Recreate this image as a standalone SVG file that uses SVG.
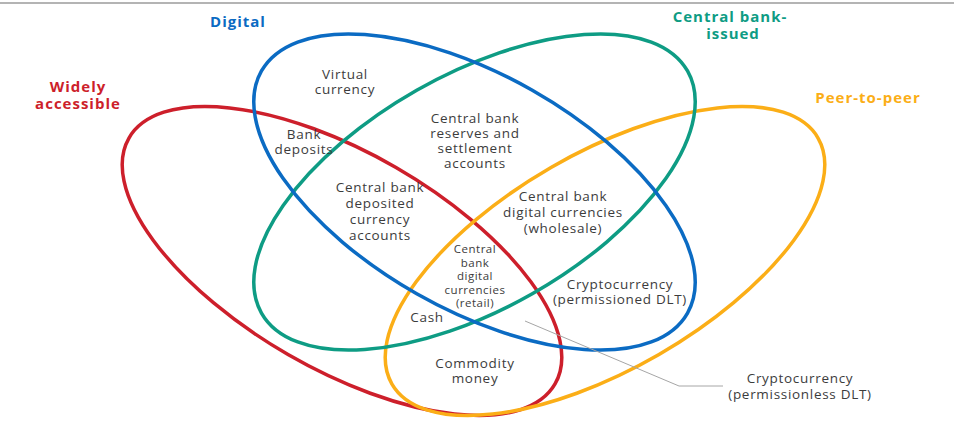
<svg xmlns="http://www.w3.org/2000/svg" width="959" height="425" viewBox="0 0 959 425">
<style>
.ring{fill:none;stroke-width:3.5}
.lbl{font-family:"Open Sans","Noto Sans",sans-serif;font-size:13.5px;fill:#3c3c3c;text-anchor:middle;letter-spacing:0.7px}
.sm{font-size:11.5px;letter-spacing:0.5px}
.ttl{font-family:"Open Sans","Noto Sans",sans-serif;font-size:15px;font-weight:bold;text-anchor:middle;letter-spacing:1px}
</style>
<rect width="959" height="425" fill="#ffffff"/>
<line x1="0" y1="3" x2="954" y2="3" stroke="#b4b4b4" stroke-width="2"/>
<g id="widely-accessible">
<ellipse class="ring" cx="342" cy="261" rx="246" ry="108" transform="rotate(30 342 261)" stroke="#CD1F2B"/>
<text class="ttl" fill="#CD1F2B"><tspan x="78" y="92">Widely</tspan><tspan x="78" y="109">accessible</tspan></text>
</g>
<g id="peer-to-peer">
<ellipse class="ring" cx="605" cy="261" rx="246" ry="108" transform="rotate(-30 605 261)" stroke="#FBAE17"/>
<text class="ttl" fill="#FBAE17" x="868" y="103">Peer-to-peer</text>
</g>
<g id="central-bank-issued">
<ellipse class="ring" cx="474.5" cy="192" rx="245" ry="117" transform="rotate(-29.6 474.5 192)" stroke="#0E9C84"/>
<text class="ttl" fill="#0E9C84"><tspan x="730" y="22">Central bank-</tspan><tspan x="733" y="39">issued</tspan></text>
</g>
<g id="digital">
<ellipse class="ring" cx="474.5" cy="192" rx="245" ry="117" transform="rotate(29.6 474.5 192)" stroke="#0B6BC3"/>
<text class="ttl" fill="#0B6BC3" x="238" y="27">Digital</text>
</g>
<g id="connectors">
<polyline points="525,321 679,386 723,386" fill="none" stroke="#a6a6a6" stroke-width="1"/>
</g>
<g id="virtual-currency"><text class="lbl"><tspan x="345" y="79">Virtual</tspan><tspan x="345" y="94">currency</tspan></text></g>
<g id="bank-deposits"><text class="lbl"><tspan x="304" y="139">Bank</tspan><tspan x="304" y="154">deposits</tspan></text></g>
<g id="cb-reserves"><text class="lbl"><tspan x="475" y="123">Central bank</tspan><tspan x="475" y="138">reserves and</tspan><tspan x="475" y="153">settlement</tspan><tspan x="475" y="168">accounts</tspan></text></g>
<g id="cb-deposited"><text class="lbl"><tspan x="380" y="192">Central bank</tspan><tspan x="380" y="208">deposited</tspan><tspan x="380" y="224">currency</tspan><tspan x="380" y="240">accounts</tspan></text></g>
<g id="cbdc-wholesale"><text class="lbl"><tspan x="563" y="201">Central bank</tspan><tspan x="563" y="217">digital currencies</tspan><tspan x="563" y="233">(wholesale)</tspan></text></g>
<g id="cbdc-retail"><text class="lbl sm"><tspan x="475" y="253">Central</tspan><tspan x="475" y="266.5">bank</tspan><tspan x="475" y="280">digital</tspan><tspan x="475" y="293.5">currencies</tspan><tspan x="475" y="307">(retail)</tspan></text></g>
<g id="cash"><text class="lbl" x="427" y="322">Cash</text></g>
<g id="crypto-permissioned"><text class="lbl"><tspan x="620" y="289">Cryptocurrency</tspan><tspan x="620" y="304">(permissioned DLT)</tspan></text></g>
<g id="commodity-money"><text class="lbl"><tspan x="475" y="368">Commodity</tspan><tspan x="475" y="383">money</tspan></text></g>
<g id="crypto-permissionless"><text class="lbl"><tspan x="800" y="383">Cryptocurrency</tspan><tspan x="800" y="399">(permissionless DLT)</tspan></text></g>
</svg>
